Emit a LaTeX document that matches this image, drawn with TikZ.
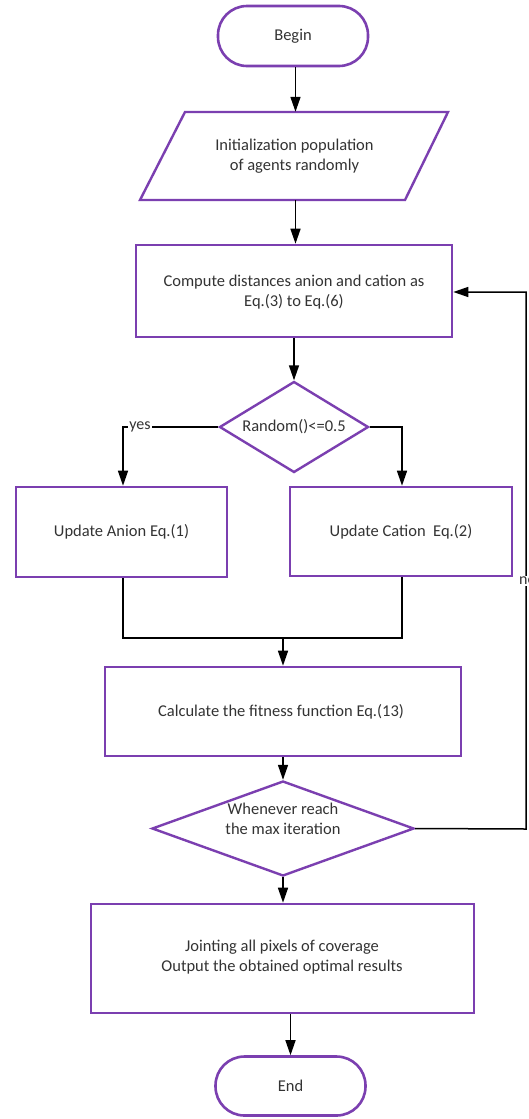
\documentclass[tikz,border=0pt]{standalone}
\usepackage{fontspec}
\setmainfont{Carlito}
\usetikzlibrary{shapes.geometric,arrows.meta,calc}
\definecolor{fcpurple}{HTML}{7B3FB0}
\definecolor{fctext}{HTML}{333333}
\tikzset{
  box/.style={draw=fcpurple, line width=2.6pt, rectangle, inner sep=0pt},
  term/.style={box, rounded corners=29pt},
  dia/.style={draw=fcpurple, line width=2.4pt, diamond, inner sep=0pt},
  txt/.style={text=fctext, align=center, font=\fontsize{16.5}{20}\selectfont, inner sep=1pt},
  conn/.style={draw=black, line width=1.5pt},
  arr/.style={conn, -{Triangle[length=15pt,width=10pt]}},
  lbl/.style={fill=white, text=fctext, font=\fontsize{16}{18}\selectfont, inner sep=1pt}
}
\begin{document}
\begin{tikzpicture}[x=1pt,y=-1pt]
\useasboundingbox[fill=white] (0,0) rectangle (528,1119);
% Begin
\node[term, minimum width=150pt, minimum height=60pt] (begin) at (293,36) {};
\node[txt] (begint) at (begin.center) {Begin};
% Parallelogram
\draw[draw=fcpurple, line width=2.4pt, line join=miter] (185,112) -- (448,112) -- (405,200) -- (140,200) -- cycle;
\node[minimum width=260pt, minimum height=88pt, inner sep=0pt] (init) at (294.5,156) {};
\node[txt] (initt) at (init.center) {Initialization population\\of agents randomly};
% Compute
\node[box, minimum width=316pt, minimum height=92pt] (comp) at (294,291) {};
\node[txt] (compt) at (294,292) {Compute distances anion and cation as\\Eq.(3) to Eq.(6)};
% Decision 1
\node[dia, minimum width=149pt, minimum height=91pt] (d1) at (294,427) {};
\node[txt] (d1t) at (294,427) {Random()<=0.5};
% Update boxes
\node[box, minimum width=211pt, minimum height=90pt] (anion) at (121.5,532) {};
\node[txt] (aniont) at (anion.center) {Update Anion Eq.(1)};
\node[box, minimum width=222pt, minimum height=89pt] (cation) at (401,531.5) {};
\node[txt] (cationt) at (cation.center) {Update Cation~~Eq.(2)};
% Fitness
\node[box, minimum width=356pt, minimum height=89pt] (fit) at (283,711.5) {};
\node[txt] (fitt) at (281,712) {Calculate the fitness function Eq.(13)};
% Decision 2
\node[dia, minimum width=262pt, minimum height=95pt] (d2) at (283,828.5) {};
\node[txt] (d2t) at (283,819) {Whenever reach\\the max iteration};
% Final
\node[box, minimum width=383pt, minimum height=109pt] (final) at (282.5,958.5) {};
\node[txt] (finalt) at (282,957) {Jointing all pixels of coverage\\Output the obtained optimal results};
% End
\node[term, minimum width=150pt, minimum height=59pt] (end) at (290.5,1086) {};
\node[txt] (endt) at (end.center) {End};
% Connectors
\coordinate (ja) at (123,638);
\coordinate (jc) at (402,638);
\coordinate (jm) at (283,638);
\coordinate (loopr) at (526,829);
\coordinate (loopt) at (526,292);
\draw[arr] (begin.south -| 295.5,0) -- (init.north -| 295.5,0);
\draw[arr] (init.south -| 295.5,0) -- (comp.north -| 295.5,0);
\draw[arr] (comp.south -| d1.north) -- (d1.north);
\draw[arr] (d1.west) -| (anion.north -| ja);
\draw[arr] (d1.east) -| (cation.north -| jc);
\draw[conn] (anion.south -| ja) -- (ja) -- (jc) -- (cation.south -| jc);
\draw[arr] (jm) -- (fit.north -| jm);
\draw[arr] (fit.south -| d2.north) -- (d2.north);
\draw[arr] (d2.south) -- (final.north -| d2.south);
\draw[arr] (final.south -| end.north) -- (end.north);
\draw[arr] (d2.east) -- (loopr) -- (loopt) -- (comp.east |- loopt);
\node[lbl] (yes) at (140,427) {yes};
\node[lbl, anchor=west] (no) at (518,581) {no};
\end{tikzpicture}
\end{document}
